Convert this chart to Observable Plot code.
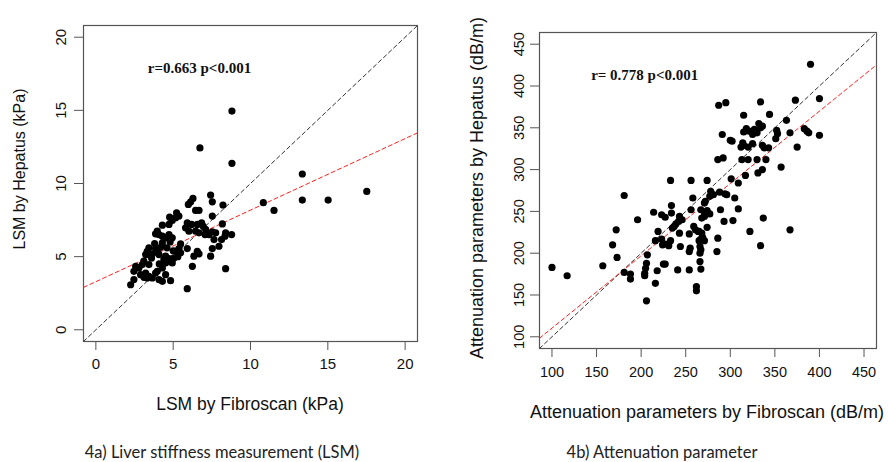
<!DOCTYPE html>
<html>
<head>
<meta charset="utf-8">
<script src="https://cdn.jsdelivr.net/npm/d3@7"></script>
<script src="https://cdn.jsdelivr.net/npm/@observablehq/plot@0.6"></script>
<style>
  body { margin: 0; background: #fff; }
  #wrap { position: relative; width: 888px; height: 462px; overflow: hidden; background: #fff; }
  #wrap svg { position: absolute; }
  .t { position: absolute; white-space: nowrap; color: #111; line-height: 1; font-family: "Liberation Sans", Arial, sans-serif; }
  .h { transform: translate(-50%, -50%); }
  .v { transform: translate(-50%, -50%) rotate(-90deg); }
  .cap { font-family: Lato, "Open Sans", sans-serif; color: #222; }
</style>
</head>
<body>
<div id="wrap"></div>
<script>
// ---------- data ----------
// Panel a: LSM by Fibroscan (x, kPa) vs LSM by Hepatus (y, kPa)
const lsmPoints = [
  [8.8,14.95],[6.73,12.43],[8.8,11.38],[13.35,10.65],[17.52,9.46],[10.83,8.69],[11.52,8.16],
  [13.35,8.87],[15.02,8.87],[8.39,4.18],[5.91,2.81],
  [7.42,9.21],[7.53,8.75],[6.28,8.98],[6.13,8.75],[5.98,8.57],[6.45,8.16],[6.67,8.16],[8.22,8.53],
  [7.53,7.77],[5.22,8.0],[5.37,7.77],[5.16,7.66],[4.77,7.7],[4.94,7.47],[4.73,7.2],[4.3,7.15],
  [6.84,7.31],[6.93,7.09],[7.1,6.86],[6.56,7.2],[6.19,7.2],[5.91,7.31],[5.8,6.97],[6.02,6.74],
  [6.45,6.74],[6.67,6.63],[7.06,6.51],[7.32,6.51],[7.53,6.7],[7.75,6.63],[7.64,6.17],[8.18,7.24],
  [8.13,6.17],[8.39,6.63],[8.35,6.4],[8.78,6.51],[7.96,5.71],[7.53,5.55],[7.42,5.03],[6.56,5.37],
  [6.67,5.19],[6.34,5.03],[5.91,5.55],[6.24,4.34],[5.48,5.87],[5.37,5.55],[5.16,5.37],[5.48,5.26],
  [4.94,6.29],[4.73,6.51],[4.51,6.29],[4.3,6.4],[4.08,6.51],[3.97,6.74],[3.86,6.56],[4.3,5.94],
  [4.19,5.64],[3.86,5.55],[3.43,5.6],[3.32,5.37],[3.22,5.14],[3.65,5.19],[4.08,5.14],[4.51,5.03],
  [4.73,4.87],[5.05,4.91],[4.94,4.57],[4.51,4.57],[4.3,4.23],[3.97,4.0],[3.43,4.46],[3.0,4.46],
  [2.78,4.23],[2.57,4.34],[2.46,4.0],[2.89,3.77],[3.22,3.88],[3.43,3.66],[3.65,3.54],[4.08,3.43],
  [4.3,3.31],[4.83,3.36],[3.86,3.88],[3.32,3.54],[3.11,3.59],[2.25,3.08],[2.46,3.43],[4.51,3.77],
  [3.8,5.9],[4.6,5.6],[5.0,5.4],[4.4,4.8],[3.6,4.9],[4.1,4.5],[5.3,5.0],[4.8,6.0],[3.1,4.7],[4.0,5.3]
];
const lsmDomain = [0, 20];
const lsmTicks = [0, 5, 10, 15, 20];
const lsmFit = [3.29, 0.489];            // intercept, slope (red dashed)
const lsmNote = ["r=0.663 p<0.001", 6.7, 17.85];

// Panel b: Attenuation parameter by Fibroscan (x, dB/m) vs by Hepatus (y, dB/m)
const capPoints = [
  [100,183],[117,173],[157,185],[172,228],[168,210],[173,195],[181,269],[181,177],[188,175],[188,169],[196,240],
  [207,198],[206,188],[205,182],[204,176],[204,173],
  [225,187],[227,187],[218,179],[241,180],[254,180],[266,190],[267,181],[216,164],[206,143],[262,160],[262,155],
  [214,249],[223,246],[227,243],[234,248],[234,257],[243,244],[246,240],[242,238],[239,235],[235,230],[237,232],
  [271,244],[268,242],[293,238],[303,239],[337,242],
  [259,232],[261,228],[264,226],[268,224],[274,231],[269,219],[265,226],
  [219,226],[243,224],[254,223],[322,226],[367,228],
  [216,215],[223,217],[224,210],[227,211],[231,209],[233,215],[244,208],[255,206],[254,202],
  [265,215],[267,217],[271,215],[266,208],[267,204],[266,200],[286,218],[285,202],[334,209],
  [258,266],[233,287],[256,287],[274,287],[301,289],[309,284],
  [278,274],[281,270],[277,268],[288,273],[294,271],[296,270],[305,266],[272,262],[271,260],
  [256,252],[267,252],[271,249],[274,251],[277,247],[289,252],[309,253],
  [286,312],[292,314],[313,312],[320,312],[330,312],[340,312],
  [331,296],[336,300],[357,303],[317,293],
  [300,335],[302,334],[312,327],[314,332],[315,329],[320,327],[325,331],[336,329],[338,326],[343,326],[375,327],
  [291,342],[318,349],[321,346],[315,345],[327,348],[330,344],[325,342],[332,355],[336,352],[334,350],
  [352,347],[353,343],[351,337],[367,344],[383,349],[386,346],[388,344],[400,341],
  [344,366],[315,365],[363,359],
  [287,377],[295,380],[334,381],[373,383],[400,385],[390,426]
];
const capDomain = [100, 450];
const capTicks = [100, 150, 200, 250, 300, 350, 400, 450];
const capFit = [23.9, 0.865];
const capNote = ["r= 0.778 p<0.001", 204, 413.5];

// ---------- drawing ----------
const wrap = document.getElementById("wrap");

function panel({points, domain, ticks, fit, note, width, height, margins, tickFont, xPad, yPad}) {
  const [lo, hi] = domain;
  const pad = (hi - lo) * 0.04;
  const ext = [lo - pad, hi + pad];
  const idLine = ext.map(v => ({x: v, y: v}));
  const fitLine = ext.map(v => ({x: v, y: fit[0] + fit[1] * v}));
  return Plot.plot({
    width, height,
    marginLeft: margins[0], marginRight: margins[1], marginTop: margins[2], marginBottom: margins[3],
    x: {domain: ext, label: null},
    y: {domain: ext, label: null},
    style: {fontFamily: '"Liberation Sans", Arial, sans-serif', fontSize: tickFont + "px", color: "#111", background: "transparent"},
    marks: [
      Plot.axisX(ticks, {tickSize: 9, tickPadding: xPad, stroke: "#555", fontSize: tickFont, label: null}),
      Plot.axisY(ticks, {tickSize: 9, tickRotate: -90, tickPadding: yPad, stroke: "#555", fontSize: tickFont, label: null}),
      Plot.line(idLine, {x: "x", y: "y", stroke: "#333", strokeWidth: 1, strokeDasharray: "4,3", clip: true}),
      Plot.line(fitLine, {x: "x", y: "y", stroke: "#ff2020", strokeWidth: 1, strokeDasharray: "4,3", clip: true}),
      Plot.dot(points, {x: d => d[0], y: d => d[1], r: 3.6, fill: "#000", stroke: "none"}),
      Plot.text([note], {x: d => d[1], y: d => d[2], text: d => d[0], fontFamily: '"Liberation Serif", "Times New Roman", serif',
        fontWeight: "bold", fontSize: 15, fill: "#111"}),
      Plot.frame({stroke: "#555", strokeWidth: 1.2})
    ]
  });
}

const left = panel({
  points: lsmPoints, domain: lsmDomain, ticks: lsmTicks, fit: lsmFit, note: lsmNote,
  width: 440, height: 380, margins: [83, 23, 25, 39], tickFont: 15, xPad: 8, yPad: 9
});
left.style.left = "0px"; left.style.top = "0px";
wrap.appendChild(left);

const right = panel({
  points: capPoints, domain: capDomain, ticks: capTicks, fit: capFit, note: capNote,
  width: 448, height: 390, margins: [99, 12, 32, 42], tickFont: 14.5, xPad: 9, yPad: 7
});
right.style.left = "440px"; right.style.top = "0px";
wrap.appendChild(right);

const labels = [
  ["LSM by Fibroscan (kPa)", 250, 405, 17.5, "h", "t"],
  ["LSM by Hepatus (kPa)", 20, 169, 16, "v", "t"],
  ["Attenuation parameters by Fibroscan (dB/m)", 707, 412, 18, "h", "t"],
  ["Attenuation parameters by Hepatus (dB/m)", 477, 188, 18, "v", "t"],
  ["4a) Liver stiffness measurement (LSM)", 222, 452, 16.5, "h", "t cap"],
  ["4b) Attenuation parameter", 662, 452, 16.5, "h", "t cap"]
];
for (const [txt, x, y, fs, dir, cls] of labels) {
  const d = document.createElement("div");
  d.className = cls + " " + dir;
  d.textContent = txt;
  d.style.left = x + "px";
  d.style.top = y + "px";
  d.style.fontSize = fs + "px";
  wrap.appendChild(d);
}
</script>
</body>
</html>
